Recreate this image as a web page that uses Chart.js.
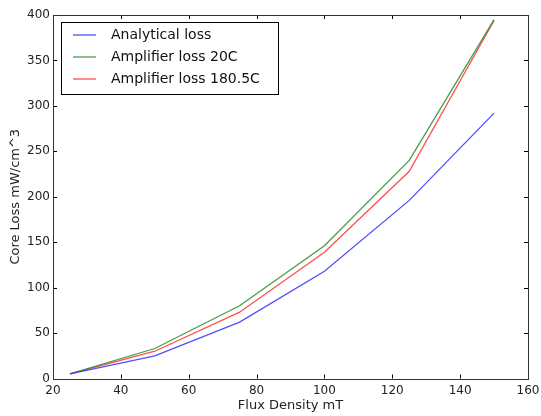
<!DOCTYPE html>
<html><head><meta charset="utf-8">
<script src="https://cdn.jsdelivr.net/npm/chart.js@4/dist/chart.umd.min.js"></script>
<style>html,body{margin:0;padding:0;background:#fff}#wrap{width:541px;height:416px}</style>
</head><body><div id="wrap"><canvas id="c" width="541" height="416"></canvas></div>
<script>
const fluxDensity = [25, 50, 75, 100, 125, 150];
const analyticalLoss = [5, 25, 62, 118, 196, 292];
const amplifierLoss20C = [5, 33, 80, 146, 240, 395];
const amplifierLoss180C = [5, 30, 73, 139, 228, 394];
const seriesLabels = ['Analytical loss', 'Amplifier loss 20C', 'Amplifier loss 180.5C'];
const xTicks = [20, 40, 60, 80, 100, 120, 140, 160];
const yTicks = [0, 50, 100, 150, 200, 250, 300, 350, 400];

const FONT = '"DejaVu Sans", "Bitstream Vera Sans", sans-serif';
const colors = ['rgba(60,60,255,0.9)', 'rgba(40,140,40,0.85)', 'rgba(255,60,60,0.9)'];

function mk(vals){ return fluxDensity.map((x,i)=>({x:x, y:vals[i]})); }

const framePlugin = {
  id: 'frame',
  afterDatasetsDraw(chart){
    const {ctx, chartArea:a, scales:{x, y}} = chart;
    ctx.save();
    ctx.strokeStyle = '#000';
    ctx.lineWidth = 1;
    ctx.beginPath();
    xTicks.forEach(v=>{
      const px = Math.round(x.getPixelForValue(v))+0.5;
      ctx.moveTo(px, a.bottom); ctx.lineTo(px, a.bottom-4);
      ctx.moveTo(px, a.top); ctx.lineTo(px, a.top+4);
    });
    yTicks.forEach(v=>{
      const py = Math.round(y.getPixelForValue(v))+0.5;
      ctx.moveTo(a.left, py); ctx.lineTo(a.left+4, py);
      ctx.moveTo(a.right, py); ctx.lineTo(a.right-4, py);
    });
    ctx.stroke();
    ctx.strokeStyle = '#333';
    ctx.strokeRect(Math.round(a.left)+0.5, Math.round(a.top)+0.5, Math.round(a.right-a.left), Math.round(a.bottom-a.top));
    // legend
    const lx = a.left + 8, ly = a.top + 7, lw = 217, lh = 72;
    ctx.fillStyle = '#fff';
    ctx.fillRect(lx, ly, lw, lh);
    ctx.strokeStyle = '#000';
    ctx.strokeRect(Math.round(lx)+0.5, Math.round(ly)+0.5, lw, lh);
    ctx.font = '14px ' + FONT;
    ctx.textBaseline = 'middle';
    chart.data.datasets.forEach((ds, i)=>{
      const yy = ly + 13 + i*22;
      ctx.strokeStyle = ds.borderColor;
      ctx.lineWidth = 1.3;
      ctx.beginPath(); ctx.moveTo(lx+12, yy); ctx.lineTo(lx+35, yy); ctx.stroke();
      ctx.fillStyle = '#111';
      ctx.fillText(ds.label, lx+50, yy);
    });
    ctx.restore();
  }
};

new Chart(document.getElementById('c'), {
  type: 'line',
  data: {
    datasets: [
      {label: seriesLabels[0], data: mk(analyticalLoss), borderColor: colors[0]},
      {label: seriesLabels[1], data: mk(amplifierLoss20C), borderColor: colors[1]},
      {label: seriesLabels[2], data: mk(amplifierLoss180C), borderColor: colors[2]}
    ].map(d=>Object.assign(d, {borderWidth:1.3, pointRadius:0, tension:0, fill:false}))
  },
  options: {
    responsive: false, animation: false,
    layout: {padding: {left: 8, right: 13, top: 15, bottom: 0}},
    plugins: {legend: {display:false}, tooltip: {enabled:false}},
    scales: {
      x: {
        type: 'linear', min: 20, max: 160,
        afterBuildTicks(s){ s.ticks = xTicks.map(v=>({value:v})); },
        afterFit(s){ s.height = 37.5; s.paddingLeft = 0; s.paddingRight = 0; },
        grid: {display:false, drawTicks:false}, border: {display:false},
        ticks: {color:'#222', font:{family:FONT, size:12}, padding:5, maxRotation:0},
        title: {display:true, text:'Flux Density mT', color:'#222', font:{family:FONT, size:13}, padding:{top:0, bottom:3}}
      },
      y: {
        type: 'linear', min: 0, max: 400,
        afterBuildTicks(s){ s.ticks = yTicks.map(v=>({value:v})); },
        afterFit(s){ s.width = 45; s.paddingTop = 0; s.paddingBottom = 0; },
        grid: {display:false, drawTicks:false}, border: {display:false},
        ticks: {color:'#222', font:{family:FONT, size:12}, padding:3},
        title: {display:true, text:'Core Loss mW/cm^3', color:'#222', font:{family:FONT, size:13}, padding:{top:0, bottom:0}}
      }
    }
  },
  plugins: [framePlugin]
});
</script></body></html>
